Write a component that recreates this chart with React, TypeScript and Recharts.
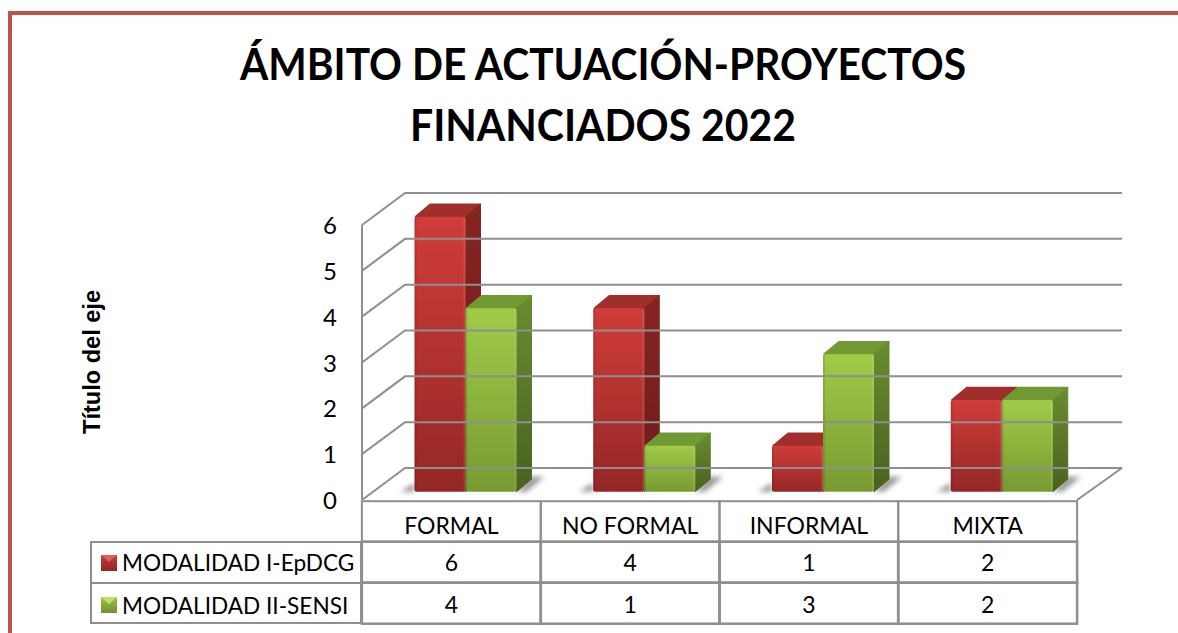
import { Bar, BarChart, Legend, XAxis, YAxis } from "recharts";

const categories = ["FORMAL", "NO FORMAL", "INFORMAL", "MIXTA"];
const modalidadI = [6, 4, 1, 2];
const modalidadII = [4, 1, 3, 2];
const yTicks = [0, 1, 2, 3, 4, 5, 6];
const seriesNames = ["MODALIDAD I-EpDCG", "MODALIDAD II-SENSI"];
const titleLines = ["ÁMBITO DE ACTUACIÓN-PROYECTOS", "FINANCIADOS 2022"];
const titleWidths = [726, 386];

const rows = categories.map((name, i) => ({
  name,
  modalidadI: modalidadI[i],
  modalidadII: modalidadII[i],
}));

const FONT = "Lato, sans-serif";
const GRID = "#8f8f8f";
const UNIT = 45.83;
const BAND = 179;
const DX = 15; // bar depth
const DY = 12.5;

const RED = { id: "red", top: "#a02e2b", side: "#7c2321" };
const GREEN = { id: "green", top: "#729a34", side: "#5c7a2a" };

const Bar3D = (color: typeof RED, shadow: "left" | "right") => (props: any) => {
  const x = props.x + 14.5;
  const { y, width: w, height: h } = props;
  const base = y + h;
  const shadowPts =
    shadow === "left"
      ? `${x - 14},${base} ${x - 2},${base - 8} ${x},${base - 8} ${x},${base}`
      : `${x + w},${base} ${x + w + 14},${base - 15} ${x + w + 28},${base - 15} ${x + w + 10},${base}`;
  return (
    <g>
      <polygon points={shadowPts} fill="#9a9a9a" filter="url(#floorBlur)" />
      <polygon
        points={`${x + 1},${y} ${x + DX + 1},${y - DY} ${x + w + DX},${y - DY} ${x + w},${y}`}
        fill={color.top}
        stroke={color.top}
        strokeWidth={1.5}
        strokeLinejoin="round"
      />
      <polygon
        points={`${x + w},${y} ${x + w + DX},${y - DY} ${x + w + DX},${base - DY} ${x + w},${base}`}
        fill={`url(#${color.id}Side)`}
        stroke={`url(#${color.id}Side)`}
        strokeLinejoin="round"
      />
      <rect x={x} y={y} width={w} height={h} rx={2} fill={`url(#${color.id}Front)`} />
      <rect x={x} y={y + 1} width={2} height={h - 2} fill="#000" opacity={0.1} />
      <rect x={x + w - 2} y={y + 1} width={2} height={h - 2} fill="#fff" opacity={0.1} />
    </g>
  );
};

// tick also draws the side wall and back wall line for each value
const WallTick = (props: any) => {
  const { y, payload } = props;
  const v = payload.value;
  const front = y + 8.3;
  const back = y - 23.7;
  return (
    <g>
      <polyline points={`362,${front} 405,${back} 1122,${back}`} fill="none" stroke={GRID} strokeWidth={2} />
      {v === 0 && (
        <>
          <line x1={362} y1={front} x2={362} y2={front - 6 * UNIT} stroke={GRID} strokeWidth={2} />
          <line x1={1077} y1={front} x2={1122} y2={back} stroke={GRID} strokeWidth={2} />
        </>
      )}
      <text x={330} y={front + 9} textAnchor="middle" fontFamily={FONT} fontSize={24} fill="#000">
        {v}
      </text>
    </g>
  );
};

// category label plus the two data table cells under it
const TableTick = (props: any) => {
  const { x, y, payload, index } = props;
  const left = x - BAND / 2;
  const top = y + 3.5;
  const cell = (text: number | string, cy: number) => (
    <text x={x} y={cy} textAnchor="middle" fontFamily={FONT} fontSize={23} fill="#000">
      {text}
    </text>
  );
  return (
    <g>
      <rect x={left} y={top} width={BAND} height={40.5} fill="none" stroke={GRID} strokeWidth={2} />
      <rect x={left} y={top + 40.5} width={BAND} height={41} fill="none" stroke={GRID} strokeWidth={2.5} />
      <rect x={left} y={top + 81.5} width={BAND} height={41} fill="none" stroke={GRID} strokeWidth={2.5} />
      {cell(payload.value, top + 33)}
      {cell(modalidadI[index], top + 70)}
      {cell(modalidadII[index], top + 112)}
    </g>
  );
};

const Swatch = ({ from, to, top }: { from: string; to: string; top: string }) => (
  <svg width={16} height={16} style={{ marginRight: 5, flex: "none" }}>
    <defs>
      <linearGradient id={"sw" + top.slice(1)} x1="0" y1="0" x2="0" y2="1">
        <stop offset="0%" stopColor={from} />
        <stop offset="100%" stopColor={to} />
      </linearGradient>
    </defs>
    <rect width={16} height={16} fill={`url(#sw${top.slice(1)})`} />
    <polygon points="0,0 16,0 8,7" fill={top} />
  </svg>
);

const TableLegend = (props: any) => (
  <div style={{ width: 272, boxSizing: "border-box", border: `2px solid ${GRID}`, fontFamily: FONT, fontSize: 22.6, color: "#000" }}>
    {props.payload.map((entry: any, i: number) => (
      <div
        key={entry.value}
        style={{
          height: i === 0 ? 39 : 38,
          display: "flex",
          alignItems: "center",
          paddingLeft: 9,
          paddingTop: i ? 2 : 0,
          boxSizing: "content-box",
          marginBottom: i ? -2 : 0,
          whiteSpace: "nowrap",
          borderTop: i ? `2px solid ${GRID}` : "none",
        }}
      >
        {i === 0 ? (
          <Swatch from="#c93a37" to="#8f2725" top="#dc5f5c" />
        ) : (
          <Swatch from="#9ec545" to="#6f8f2d" top="#c2e06c" />
        )}
        {entry.value}
      </div>
    ))}
  </div>
);

export default function App() {
  return (
    <div style={{ position: "relative", width: 1178, height: 633, overflow: "hidden", background: "#fff" }}>
      <style>{"body{margin:0;overflow:hidden}"}</style>
      <div
        style={{
          position: "absolute",
          left: 8,
          top: 11,
          width: 1300,
          height: 800,
          border: "4px solid #c0504d",
        }}
      />
      <BarChart
        width={1178}
        height={633}
        data={rows}
        barSize={51}
        barGap={0}
        margin={{ top: 216.7, right: 101, bottom: 111.3, left: 322 }}
        style={{ position: "absolute", left: 0, top: 0 }}
      >
        <defs>
          <linearGradient id="redFront" x1="0" y1="0" x2="0" y2="1">
            <stop offset="0%" stopColor="#d03c39" />
            <stop offset="100%" stopColor="#942725" />
          </linearGradient>
          <linearGradient id="redSide" x1="0" y1="0" x2="0" y2="1">
            <stop offset="0%" stopColor="#862522" />
            <stop offset="100%" stopColor="#6a1c1b" />
          </linearGradient>
          <linearGradient id="greenFront" x1="0" y1="0" x2="0" y2="1">
            <stop offset="0%" stopColor="#a0cb48" />
            <stop offset="100%" stopColor="#789a31" />
          </linearGradient>
          <linearGradient id="greenSide" x1="0" y1="0" x2="0" y2="1">
            <stop offset="0%" stopColor="#6a8d2f" />
            <stop offset="100%" stopColor="#4a6120" />
          </linearGradient>
          <filter id="floorBlur" x="-50%" y="-50%" width="200%" height="200%">
            <feGaussianBlur stdDeviation="2.5" />
          </filter>
        </defs>
        {titleLines.map((line, i) => (
          <text
            key={line}
            x={603}
            y={80 + i * 61}
            textAnchor="middle"
            fontFamily={FONT}
            fontWeight={700}
            fontSize={44}
            textLength={titleWidths[i]}
            lengthAdjust="spacingAndGlyphs"
            fill="#000"
          >
            {line}
          </text>
        ))}
        <text
          x={100}
          y={362}
          textAnchor="middle"
          transform="rotate(-90 100 362)"
          fontFamily="'Liberation Sans', sans-serif"
          fontWeight={700}
          fontSize={23}
          textLength={144}
          lengthAdjust="spacingAndGlyphs"
          fill="#000"
        >
          Título del eje
        </text>
        <YAxis
          width={40}
          domain={[0, 6]}
          ticks={yTicks}
          interval={0}
          axisLine={false}
          tickLine={false}
          tick={WallTick}
        />
        <XAxis dataKey="name" height={30} axisLine={false} tickLine={false} tickMargin={0} interval={0} tick={TableTick} />
        <Legend
          layout="vertical"
          align="center"
          verticalAlign="middle"
          content={TableLegend}
          wrapperStyle={{ left: 90, top: 541, width: 272 }}
        />
        <Bar
          dataKey="modalidadI"
          name={seriesNames[0]}
          fill="#c93a37"
          isAnimationActive={false}
          shape={Bar3D(RED, "left")}
        />
        <Bar
          dataKey="modalidadII"
          name={seriesNames[1]}
          fill="#9ec545"
          isAnimationActive={false}
          shape={Bar3D(GREEN, "right")}
        />
      </BarChart>
    </div>
  );
}
